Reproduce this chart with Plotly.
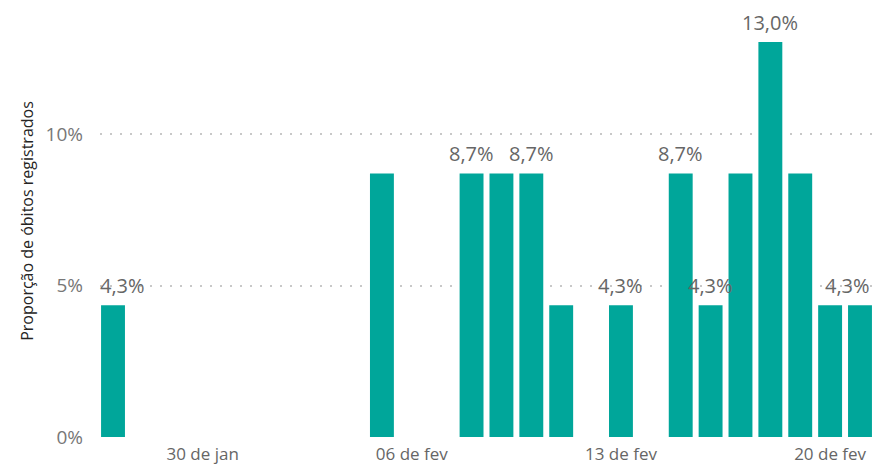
import plotly.graph_objects as go

dates = ["2021-01-27", "2021-02-05", "2021-02-08", "2021-02-09", "2021-02-10",
         "2021-02-11", "2021-02-13", "2021-02-15", "2021-02-16", "2021-02-17",
         "2021-02-18", "2021-02-19", "2021-02-20", "2021-02-21"]
values = [0.0435, 0.087, 0.087, 0.087, 0.087,
          0.0435, 0.0435, 0.087, 0.0435, 0.087,
          0.1304, 0.087, 0.0435, 0.0435]
labels = ["4,3%", "", "8,7%", "", "8,7%",
          "", "4,3%", "8,7%", "4,3%", "",
          "13,0%", "", "", "4,3%"]
label_shift = [9, 0, 0, 0, 0, 0, 0, 0, 0, 0, 0, 0, 0, -12]

xtick_vals = ["2021-01-30", "2021-02-06", "2021-02-13", "2021-02-20"]
xtick_text = ["30 de jan", "06 de fev", "13 de fev", "20 de fev"]
ytick_vals = [0, 0.05, 0.10]
ytick_text = ["0%", "5%", "10%"]

FONT = "Open Sans"
BAR = "#00A69A"

fig = go.Figure()
fig.add_trace(go.Bar(x=dates, y=values, marker=dict(color=BAR, line=dict(width=0)),
                     hoverinfo="skip"))

for d, v, t, s in zip(dates, values, labels, label_shift):
    if t:
        fig.add_annotation(x=d, y=v, text=t, showarrow=False, yanchor="bottom",
                           yshift=4, xshift=s,
                           font=dict(family=FONT, size=20, color="#666666"))

fig.update_layout(
    width=874, height=464,
    margin=dict(l=100, r=0, t=5, b=27),
    paper_bgcolor="white", plot_bgcolor="white",
    bargap=0.2, showlegend=False,
    font=dict(family=FONT),
    xaxis=dict(
        type="date",
        range=["2021-01-26 13:33", "2021-02-21 11:15"],
        tickvals=xtick_vals, ticktext=xtick_text,
        tickfont=dict(family=FONT, size=17, color="#666666"),
        showgrid=False, zeroline=False, showline=False, ticks="",
        ticklabelstandoff=5,
    ),
    yaxis=dict(
        range=[0, 0.1426],
        tickvals=ytick_vals, ticktext=ytick_text,
        tickfont=dict(family=FONT, size=19, color="#777777"),
        showgrid=True, gridcolor="#C8C8C8", gridwidth=1.5, griddash="2px,8px",
        zeroline=False, showline=False, ticks="",
        ticklabelstandoff=16,
        title=dict(text="Proporção de óbitos registrados",
                   font=dict(family=FONT, size=16, color="#252423"), standoff=7),
    ),
)

fig.write_html("out.html")
